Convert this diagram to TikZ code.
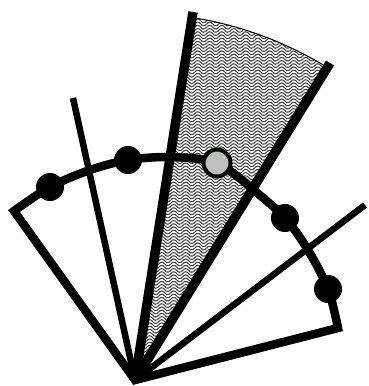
\documentclass[tikz,border=0pt]{standalone}
\usetikzlibrary{decorations.pathmorphing}
\definecolor{beadgray}{RGB}{190,192,190}
\definecolor{wavegray}{RGB}{60,60,60}
\begin{document}
\begin{tikzpicture}[x=1pt,y=-1pt,
  thickray/.style={line width=9.5pt},
  thinray/.style={line width=6.5pt},
  outline/.style={line width=8.5pt, line join=miter, miter limit=20},
  bead/.style={circle, fill=black, inner sep=0pt, minimum size=28pt},
  graybead/.style={circle, fill=beadgray, draw=black, line width=4pt, inner sep=0pt, minimum size=27pt},
  wave/.style={draw=wavegray, line width=1pt, decorate,
    decoration={snake, amplitude=1.9pt, segment length=12pt}},
  rim/.style={line width=1pt}]
\useasboundingbox (0,0) rectangle (368,386);
\coordinate (O) at (135,380);
\coordinate (Aend) at (14,211);
\coordinate (Btop) at (73,98);
\coordinate (Ctop) at (193,12);
\coordinate (Dtop) at (330,63);
\coordinate (Etop) at (365,205);
\coordinate (Fend) at (338,328);
% wavy wedge
\begin{scope}
  \clip (O) -- ++(-81.04:367) arc[start angle=-81.04, end angle=-58.4, radius=367] -- cycle;
  \foreach \yy in {8,11.2,...,386} {
    \draw[wave] (110,\yy) -- (350,\yy);
  }
\end{scope}
\draw[rim] (O) ++(-81.04:367) arc[start angle=-81.04, end angle=-58.4, radius=367];
% outline fan
\draw[outline] plot[smooth, tension=0.55] coordinates {(14,211) (50,187) (90,170) (128,160) (165,157) (200,159) (217,163) (233,173) (255,191) (285,218) (308,250) (328,289) (338,328)} -- (O) -- cycle;
% rays
\draw[thinray] (O) -- (Btop);
\draw[thickray] (O) -- (Ctop);
\draw[thickray] (O) -- (Dtop);
\draw[thinray] (O) -- (Etop);
% beads
\node[bead] (b1) at (50,187) {};
\node[bead] (b2) at (128,160) {};
\node[graybead] (g) at (217,163) {};
\node[bead] (b3) at (285,218) {};
\node[bead] (b4) at (328,289) {};
\end{tikzpicture}
\end{document}
